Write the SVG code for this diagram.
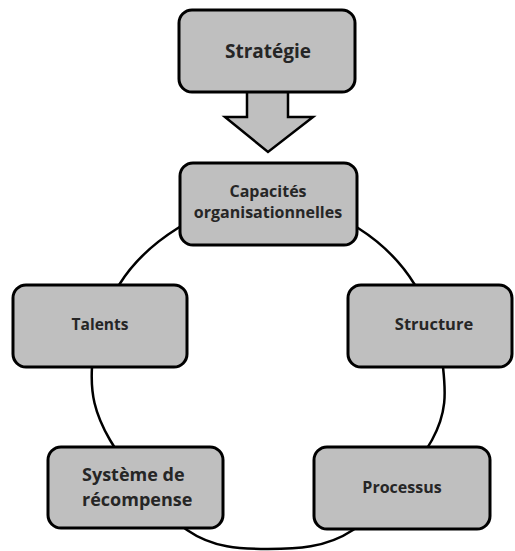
<svg xmlns="http://www.w3.org/2000/svg" width="515" height="551" viewBox="0 0 515 551">
<style>
.box{fill:#bfbfbf;stroke:#000;stroke-width:3}
.t{font-family:"Open Sans","Liberation Sans",sans-serif;font-weight:bold;fill:#262626;text-anchor:middle}
.s{text-anchor:start}
.ring{fill:none;stroke:#000;stroke-width:2.5}
</style>
<rect width="515" height="551" fill="#fff"/>
<g id="connectors">
<path class="ring" d="M268,192 C238,192 202.8,212.5 178,228 C153.2,243.5 133.3,261.8 119,285 C104.7,308.2 93.5,341.2 92,367 C90.5,392.8 94.2,412.8 110,440 C125.8,467.2 160.7,511.8 187,530 C213.3,548.2 240.3,549 268,549 C295.7,549 325.7,548.2 353,530 C380.3,511.8 417,467.2 432,440 C447,412.8 445.8,392.8 443,367 C440.2,341.2 429.2,308.2 415,285 C400.8,261.8 382.5,243.5 358,228 C333.5,212.5 298,192 268,192 Z"/>
<polygon points="247,90 247,117 225,117 268,152 313,117 288,117 288,90" fill="#bfbfbf" stroke="#000" stroke-width="2.5" stroke-linejoin="miter"/>
</g>
<g id="strategie">
<rect class="box" x="179" y="10" width="176" height="82" rx="13"/>
<text class="t" x="268" y="58" font-size="19">Stratégie</text>
</g>
<g id="capacites">
<rect class="box" x="180" y="163" width="177" height="82" rx="13"/>
<text class="t" x="268" y="197" font-size="16">Capacités</text>
<text class="t" x="268" y="218" font-size="16">organisationnelles</text>
</g>
<g id="talents">
<rect class="box" x="13" y="285" width="174" height="82" rx="13"/>
<text class="t" x="100" y="330" font-size="15.5">Talents</text>
</g>
<g id="structure">
<rect class="box" x="348" y="285" width="164" height="82" rx="13"/>
<text class="t" x="434" y="330" font-size="16.5">Structure</text>
</g>
<g id="systeme">
<rect class="box" x="48" y="447" width="175" height="81" rx="13"/>
<text class="t s" x="82" y="481" font-size="18">Système de</text>
<text class="t s" x="82" y="506" font-size="18">récompense</text>
</g>
<g id="processus">
<rect class="box" x="314" y="447" width="176" height="82" rx="13"/>
<text class="t" x="402" y="493" font-size="16">Processus</text>
</g>
</svg>
